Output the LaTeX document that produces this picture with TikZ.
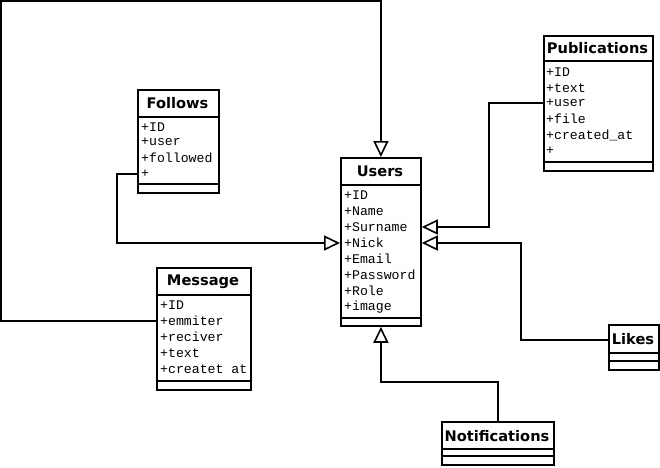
\documentclass[tikz,border=0pt]{standalone}
\usepackage{fontspec}
\newfontfamily\titlefont{DejaVu Sans}
\newfontfamily\attrfont{Liberation Mono}
\usetikzlibrary{arrows.meta}
\tikzset{
  classbox/.style={draw, line width=1.8pt, inner sep=0pt, anchor=north west},
  sepline/.style={line width=1.6pt},
  ctitle/.style={inner sep=0pt, font=\titlefont\bfseries\fontsize{14.6}{16}\selectfont},
  attr/.style={inner sep=0pt, anchor=west, font=\attrfont\fontsize{13.2}{15}\selectfont},
  conn/.style={line width=1.6pt},
  gen/.style={conn, -{Triangle[open, length=16pt, width=15pt, line width=1.6pt]}},
}
\begin{document}
\begin{tikzpicture}[x=1pt, y=-1pt]
\useasboundingbox (0,0) rectangle (660,467);

% Follows
\node[classbox, minimum width=81pt, minimum height=103pt] (follows) at (137,89) {};
\node[ctitle] (followsT) at (177.5,103) {Follows};
\draw[sepline] (137,117) -- (218,117);
\draw[sepline] (137,184) -- (218,184);
\node[attr] (fID) at (141,127) {+ID};
\node[attr] (fuser) at (141,142) {+user};
\node[attr] (ffollowed) at (141,158) {+followed};
\node[attr] (fplus) at (141,174) {+};

% Users
\node[classbox, minimum width=80pt, minimum height=168pt] (users) at (340,157) {};
\node[ctitle] (usersT) at (380,171) {Users};
\draw[sepline] (340,185) -- (420,185);
\draw[sepline] (340,318) -- (420,318);
\node[attr] (uID) at (344,195) {+ID};
\node[attr] (uname) at (344,211) {+Name};
\node[attr] (usurname) at (344,227) {+Surname};
\node[attr] (unick) at (344,243) {+Nick};
\node[attr] (uemail) at (344,259) {+Email};
\node[attr] (upassword) at (344,275) {+Password};
\node[attr] (urole) at (344,291) {+Role};
\node[attr] (uimage) at (344,307) {+image};

% Publications
\node[classbox, minimum width=109pt, minimum height=135pt] (pubs) at (543,35) {};
\node[ctitle] (pubsT) at (597.5,48) {Publications};
\draw[sepline] (543,61) -- (652,61);
\draw[sepline] (543,162) -- (652,162);
\node[attr] (pID) at (546,72) {+ID};
\node[attr] (ptext) at (546,88) {+text};
\node[attr] (puser) at (546,103) {+user};
\node[attr] (pfile) at (546,119) {+file};
\node[attr] (pcreated) at (546,135) {+created\_at};
\node[attr] (pplus) at (546,151) {+};

% Message
\node[classbox, minimum width=94pt, minimum height=122pt] (message) at (156,267) {};
\node[ctitle] (messageT) at (203,282) {Message};
\draw[sepline] (156,295) -- (250,295);
\draw[sepline] (156,381) -- (250,381);
\node[attr] (mID) at (160,305) {+ID};
\node[attr] (memmiter) at (160,321) {+emmiter};
\node[attr] (mreciver) at (160,337) {+reciver};
\node[attr] (mtext) at (160,353) {+text};
\node[attr] (mcreatet) at (160,369) {+createt at};

% Notifications
\node[classbox, minimum width=112pt, minimum height=43pt] (notif) at (441,421) {};
\node[ctitle] (notifT) at (497,436) {Notifications};
\draw[sepline] (441,449) -- (553,449);
\draw[sepline] (441,456) -- (553,456);

% Likes
\node[classbox, minimum width=50pt, minimum height=45pt] (likes) at (608,324) {};
\node[ctitle] (likesT) at (633,339) {Likes};
\draw[sepline] (608,353) -- (658,353);
\draw[sepline] (608,361) -- (658,361);

% connectors
\coordinate (topleft) at (1,1);
\draw[gen] (message.west |- memmiter) -| (topleft) -| (users.north);
\coordinate (fbend) at (117,174);
\draw[gen] (follows.west |- fplus) -- (fbend) |- (users.west |- unick);
\coordinate (pbend) at (489,103);
\draw[gen] (pubs.west |- puser) -- (pbend) |- (users.east |- usurname);
\coordinate (lbend) at (521,340);
\draw[gen] (likes.west |- lbend) -- (lbend) |- (users.east |- unick);
\draw[gen] (notif.north) -- ++(0,-39) -| (users.south);
\end{tikzpicture}
\end{document}
